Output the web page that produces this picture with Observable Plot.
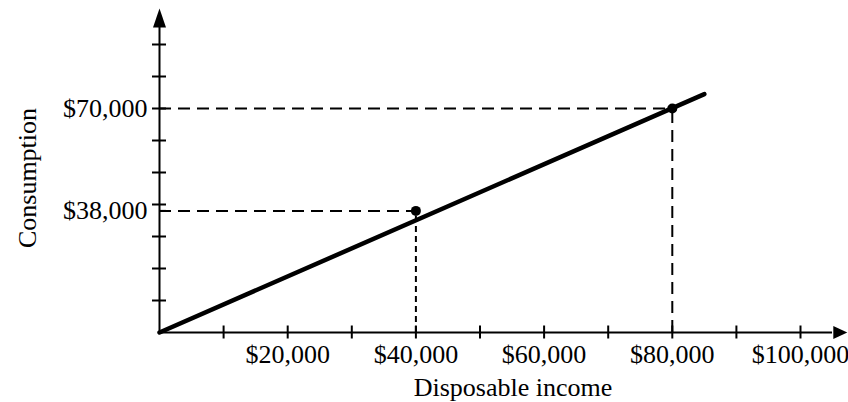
<!DOCTYPE html>
<html>
<head>
<meta charset="utf-8">
<script src="https://cdn.jsdelivr.net/npm/d3@7"></script>
<script src="https://cdn.jsdelivr.net/npm/@observablehq/plot@0.6"></script>
<style>
  html, body { margin: 0; padding: 0; background: #fff; }
  #chart svg { display: block; }
</style>
</head>
<body>
<div id="chart"></div>
<script>
// ---- data ----
const incomeTicks = [10000, 20000, 30000, 40000, 50000, 60000, 70000, 80000, 90000, 100000];
const incomeLabels = [20000, 40000, 60000, 80000, 100000];
const consumptionTicks = [10000, 20000, 30000, 40000, 50000, 60000, 70000, 80000, 90000];
const consumptionLabels = [38000, 70000];
const pointIncome = [40000, 80000];
const pointConsumption = [38000, 70000];
const lineIncome = [0, 85000];
const lineConsumption = [0, 74500];
const xAxisTip = 107300;
const yAxisTip = 101250;

const points = pointIncome.map((x, i) => ({x, y: pointConsumption[i]}));
const lineData = lineIncome.map((x, i) => ({x, y: lineConsumption[i]}));
const fmt = d => "$" + d3.format(",")(d);
const FONT = "'Liberation Serif', 'Times New Roman', Times, serif";

const arrowUp = {draw(ctx) { ctx.moveTo(0, 0); ctx.lineTo(6.5, 19); ctx.lineTo(-6.5, 19); ctx.closePath(); }};
const arrowRight = {draw(ctx) { ctx.moveTo(0, 0); ctx.lineTo(-14, 6.5); ctx.lineTo(-14, -6.5); ctx.closePath(); }};

const chart = Plot.plot({
  width: 848,
  height: 402,
  marginLeft: 159,
  marginRight: 48,
  marginTop: 12,
  marginBottom: 70,
  style: {fontFamily: FONT, fontSize: "26px", background: "#fff", color: "#000"},
  x: {domain: [0, 100000]},
  y: {domain: [0, 100000]},
  marks: [
    // dashed guides
    Plot.ruleY(points, {y: "y", x1: 0, x2: "x", stroke: "#000", strokeWidth: 2, strokeDasharray: "12,7"}),
    Plot.ruleX([points[0]], {x: "x", y1: 0, y2: "y", stroke: "#000", strokeWidth: 2, strokeDasharray: "6,4"}),
    Plot.ruleX([points[1]], {x: "x", y1: 0, y2: "y", stroke: "#000", strokeWidth: 2, strokeDasharray: "12,7"}),
    // axis lines
    Plot.ruleY([0], {x1: 0, x2: xAxisTip - 2300, stroke: "#000", strokeWidth: 2}),
    Plot.ruleX([0], {y1: 0, y2: yAxisTip - 5500, stroke: "#000", strokeWidth: 2}),
    Plot.dot([{x: xAxisTip, y: 0}], {x: "x", y: "y", symbol: arrowRight, fill: "#000", stroke: "none"}),
    Plot.dot([{x: 0, y: yAxisTip}], {x: "x", y: "y", symbol: arrowUp, fill: "#000", stroke: "none"}),
    // ticks
    Plot.axisX({ticks: incomeTicks, tickSize: 13, dy: -6.5, fill: "none", stroke: "#000", strokeWidth: 2, label: null}),
    Plot.axisY({ticks: consumptionTicks, tickSize: 14, dx: 7, fill: "none", stroke: "#000", strokeWidth: 2, label: null}),
    Plot.axisY({ticks: [consumptionLabels[0]], tickSize: 7, dx: 7, fill: "none", stroke: "#000", strokeWidth: 2, label: null}),
    // tick labels
    Plot.axisX({ticks: incomeLabels, tickSize: 0, tickPadding: 12, tickFormat: fmt, fill: "#000", fontSize: 26, fontFamily: FONT, label: null}),
    Plot.axisY({ticks: consumptionLabels, tickSize: 0, tickPadding: 12, tickFormat: fmt, fill: "#000", fontSize: 26, fontFamily: FONT, label: null}),
    // axis titles
    Plot.text(["Disposable income"], {frameAnchor: "bottom", textAnchor: "middle", lineAnchor: "middle", dx: 33, dy: 55, fontSize: 26, fontFamily: FONT, fill: "#000"}),
    Plot.text(["Consumption"], {frameAnchor: "left", textAnchor: "middle", lineAnchor: "middle", rotate: -90, dx: -132, dy: 5.5, fontSize: 26, fontFamily: FONT, fill: "#000"}),
    // consumption function
    Plot.line(lineData, {x: "x", y: "y", stroke: "#000", strokeWidth: 4.5}),
    Plot.dot(points, {x: "x", y: "y", r: 5, fill: "#000", stroke: "none"})
  ]
});
document.getElementById("chart").appendChild(chart);
</script>
</body>
</html>
